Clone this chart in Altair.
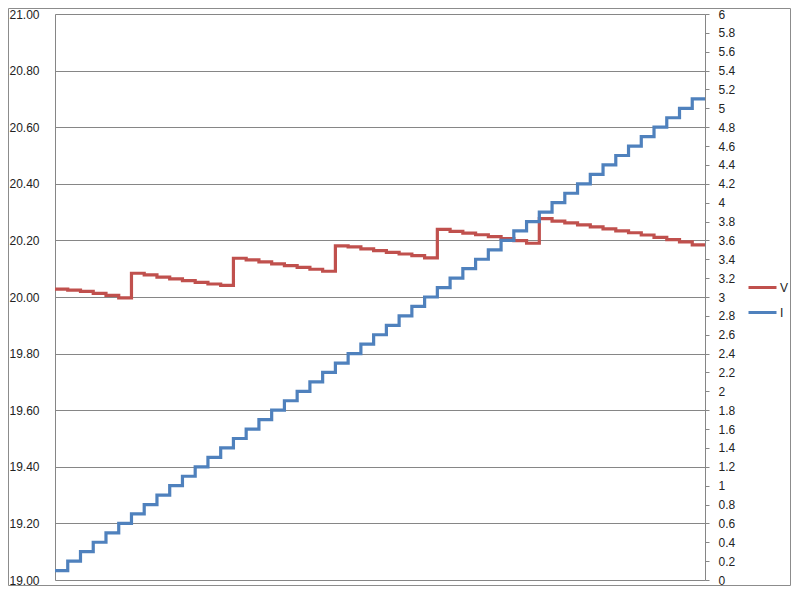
import altair as alt
import pandas as pd

# Step index (one per current setting)
steps = list(range(52))

# Voltage V (left axis), one value per step
v_values = [
    20.028, 20.024, 20.020, 20.013, 20.006, 19.997,
    20.084, 20.078, 20.070, 20.064, 20.058, 20.052, 20.046, 20.041,
    20.137, 20.131, 20.124, 20.117, 20.111, 20.105, 20.098, 20.091,
    20.181, 20.177, 20.170, 20.164, 20.158, 20.152, 20.146, 20.138,
    20.239, 20.232, 20.226, 20.220, 20.213, 20.206, 20.199, 20.190,
    20.277, 20.268, 20.262, 20.255, 20.248, 20.241, 20.234, 20.227,
    20.219, 20.211, 20.203, 20.195, 20.184,
]

# Current I (right axis), one value per step
i_values = [
    0.1, 0.2, 0.3, 0.4, 0.5, 0.6, 0.7, 0.8, 0.9, 1.0,
    1.1, 1.2, 1.3, 1.4, 1.5, 1.6, 1.7, 1.8, 1.9, 2.0,
    2.1, 2.2, 2.3, 2.4, 2.5, 2.6, 2.7, 2.8, 2.9, 3.0,
    3.1, 3.2, 3.3, 3.4, 3.5, 3.6, 3.7, 3.8, 3.9, 4.0,
    4.1, 4.2, 4.3, 4.4, 4.5, 4.6, 4.7, 4.8, 4.9, 5.0,
    5.1,
]

left_ticks = [19.0, 19.2, 19.4, 19.6, 19.8, 20.0, 20.2, 20.4, 20.6, 20.8, 21.0]
right_ticks = [0, 0.2, 0.4, 0.6, 0.8, 1, 1.2, 1.4, 1.6, 1.8, 2, 2.2, 2.4, 2.6, 2.8, 3,
               3.2, 3.4, 3.6, 3.8, 4, 4.2, 4.4, 4.6, 4.8, 5, 5.2, 5.4, 5.6, 5.8, 6]

series_names = ["V", "I"]
series_colors = ["#C0504D", "#4F81BD"]

GRID = "#868686"
FONT = "Liberation Sans"

# hold the last level to the right edge (step-after)
dfV = pd.DataFrame({"x": steps, "V": v_values + [v_values[-1]], "series": "V"})
dfI = pd.DataFrame({"x": steps, "I": i_values + [i_values[-1]], "series": "I"})

xenc = alt.X("x:Q", scale=alt.Scale(domain=[0, 51], nice=False, zero=False), axis=None)
color = alt.Color(
    "series:N",
    scale=alt.Scale(domain=series_names, range=series_colors),
    sort=series_names,
    legend=alt.Legend(
        title=None,
        orient="none",
        legendX=692,
        legendY=258,
        symbolType="stroke",
        symbolStrokeWidth=3,
        symbolSize=784,
        labelFont=FONT,
        labelFontSize=12,
        labelColor="#222222",
        labelOffset=2,
        rowPadding=3,
    ),
)

v_line = alt.Chart(dfV).mark_line(interpolate="step-after", strokeWidth=3.2).encode(
    x=xenc,
    y=alt.Y(
        "V:Q",
        scale=alt.Scale(domain=[19.0, 21.0], nice=False, zero=False),
        axis=alt.Axis(
            title=None,
            values=left_ticks,
            format=".2f",
            grid=True,
            gridColor=GRID,
            gridWidth=1,
            ticks=False,
            labelPadding=16,
            domainColor=GRID,
            labelFont=FONT,
            labelFontSize=12,
            labelColor="#222222",
            orient="left",
        ),
    ),
    color=color,
)

i_line = alt.Chart(dfI).mark_line(interpolate="step-after", strokeWidth=3.2).encode(
    x=xenc,
    y=alt.Y(
        "I:Q",
        scale=alt.Scale(domain=[0, 6], nice=False, zero=True),
        axis=alt.Axis(
            title=None,
            values=right_ticks,
            format="~g",
            grid=False,
            ticks=True,
            tickSize=4,
            tickColor=GRID,
            labelPadding=9,
            domainColor=GRID,
            labelFont=FONT,
            labelFontSize=12,
            labelColor="#222222",
            orient="right",
        ),
    ),
    color=color,
)

border = alt.Chart(pd.DataFrame({"a": [0]})).mark_rect(
    fill=None, fillOpacity=0, stroke="#8c8c8c", strokeWidth=1
).encode(
    x=alt.value(-46.5), x2=alt.value(735.5), y=alt.value(-5.5), y2=alt.value(571.5)
)

chart = (
    alt.layer(border, v_line, i_line)
    .resolve_scale(y="independent")
    .properties(
        width=650,
        height=566,
        autosize=alt.AutoSizeParams(type="none"),
        padding={"left": 47, "top": 6, "right": 86, "bottom": 6},
    )
    .configure_view(stroke=None)
    .configure(background="white")
)

chart.save("out.html", embed_options={"renderer": "svg", "actions": False})
